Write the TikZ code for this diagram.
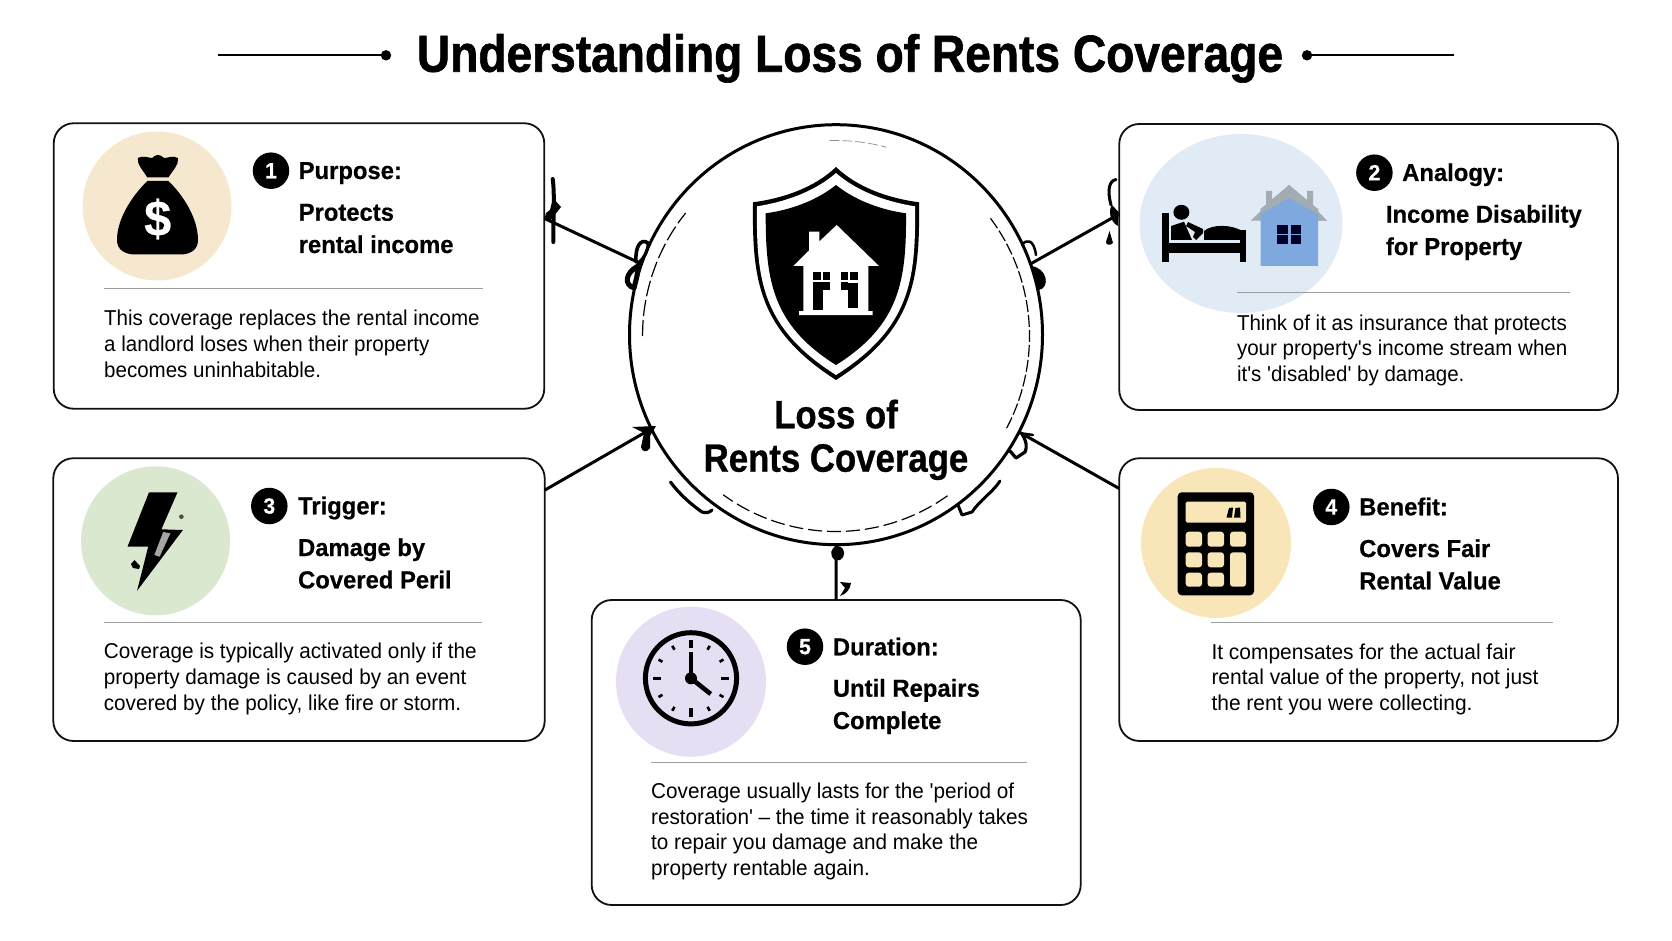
\documentclass[tikz,border=0pt]{standalone}
\usepackage{fontspec}
\usetikzlibrary{shapes.geometric}
\setmainfont{Liberation Sans}
\newfontfamily\titlef{Liberation Sans}[FakeStretch=0.887,FakeBold=1.2]
\newfontfamily\hubf{Liberation Sans}[FakeStretch=0.88,FakeBold=0.8]
\newfontfamily\headf{Liberation Sans}[FakeStretch=0.972,FakeBold=0.5]
\newfontfamily\bodyf{Liberation Sans}[FakeStretch=0.955]
\newfontfamily\bodyg{Liberation Sans}[FakeStretch=0.963]
\newfontfamily\bodyh{Liberation Sans}[FakeStretch=0.975]
\definecolor{inkc}{HTML}{111111}
\definecolor{bagbg}{HTML}{F5E8CF}
\definecolor{bedbg}{HTML}{E1EBF6}
\definecolor{boltbg}{HTML}{DAE8D0}
\definecolor{calcbg}{HTML}{F8E6B8}
\definecolor{clockbg}{HTML}{E6DEF3}
\definecolor{roofc}{HTML}{A3ABB3}
\definecolor{wallc}{HTML}{7FA8DE}
\tikzset{
  cardbox/.style={draw=inkc,line width=1.8pt,fill=white,rounded corners=20pt,inner sep=0pt,outer sep=0pt},
  badge/.style={circle,fill=black,text=white,inner sep=0pt,minimum size=36.5pt,font=\headf\bfseries\fontsize{22}{22}\selectfont},
  lead/.style={anchor=base west,inner sep=0pt,font=\headf\bfseries\fontsize{24.5}{24.5}\selectfont},
  sub/.style={anchor=base west,inner sep=0pt,align=left,font=\headf\bfseries\fontsize{24.5}{32.3}\selectfont},
  detail/.style={anchor=base west,inner sep=0pt,align=left,font=\bodyf\fontsize{21.5}{25.8}\selectfont},
  detailg/.style={detail,font=\bodyg\fontsize{21.5}{25.8}\selectfont},
  detailh/.style={detail,font=\bodyh\fontsize{21.5}{25.8}\selectfont},
  rulel/.style={draw=black!38,line width=0.9pt},
  link/.style={draw=black,line width=3pt},
  ink/.style={draw=black,line cap=round,line join=round},
}
\newcommand{\ringarc}[4][]{\draw[black,#1] plot[domain=#2:#3,samples=#4,smooth] ({836+193.5*cos(\x)},{336+195.5*sin(\x)});}
\begin{document}
\begin{tikzpicture}[x=1pt,y=-1pt]
\useasboundingbox (0,0) rectangle (1672,941);
\fill[white] (0,0) rectangle (1672,941);

% title
\node[inner sep=0pt,anchor=base,font=\titlef\bfseries\fontsize{52}{52}\selectfont] (title) at (850,71.7) {Understanding Loss of Rents Coverage};
\coordinate (tl) at (218,55.3);
\coordinate (tr) at (1454,55.3);
\fill (386,55.3) circle[radius=5.2];
\fill (1307,55.3) circle[radius=5.2];
\draw[line width=2pt] (tl) -- (386,55.3);
\draw[line width=2pt] (1307,55.3) -- (tr);

% hub and boxes
\node[ellipse,draw=black,line width=3pt,fill=white,minimum width=413pt,minimum height=420pt,inner sep=0pt,outer sep=0pt] (hub) at (836,334.7) {};
\node[cardbox,minimum width=490.5pt,minimum height=285.5pt] (box1) at (299,266) {};
\node[cardbox,minimum width=498.7pt,minimum height=286pt] (box2) at (1368.6,267) {};
\node[cardbox,minimum width=491.4pt,minimum height=282.7pt] (box3) at (299,599.6) {};
\node[cardbox,minimum width=498.7pt,minimum height=282.7pt] (box4) at (1368.6,599.6) {};
\node[cardbox,minimum width=489pt,minimum height=305pt] (box5) at (836.2,752.5) {};

% connectors
\draw[link] (box1.11.3) -- (hub.160);
\draw[link] (box2.168.9) -- (hub.20);
\draw[link] (box3.24.4) -- (hub.207);
\draw[link] (box4.156.1) -- (hub.332);
\draw[link] (box5.north) -- (hub.south);

% connector end marks, box 1
\draw[ink,line width=4pt] (552.7,179) .. controls (555,195) and (553,225) .. (553.3,242);
\fill (553,198) -- (561,207) -- (554,216) -- (550,221) -- (545,217) -- (546,213) -- (550,210) -- cycle;
\draw[ink,line width=3.6pt] (636,262) .. controls (635,246) and (641,238) .. (648,243);
\draw[ink,line width=3pt] (648,243) .. controls (648,252) and (644,258) .. (638,263);
\draw[ink,line width=5pt] (638,266) .. controls (625,273) and (624,285) .. (634,288) .. controls (636,280) and (638,274) .. (638,266);
% box 2
\fill (1112,205) .. controls (1108,210) and (1110,222) .. (1118,226) -- (1118.5,212) -- cycle;
\draw[ink,line width=3pt] (1111,205) .. controls (1107,190) and (1109,181) .. (1116,179.5);
\fill (1109.5,231) -- (1113,243) .. controls (1110,246) and (1106,245) .. (1106,242) -- cycle;
\draw[ink,line width=2.5pt] (1022,245) .. controls (1027,238) and (1034,240) .. (1036,255);
\fill (1031,266) .. controls (1048,268) and (1050,288) .. (1039,290) .. controls (1036,280) and (1034,272) .. (1031,266) -- cycle;
% box 3
\fill (632,427) -- (656,426) -- (650,436) -- (650,448) .. controls (647,453) and (642,452) .. (641,447) -- (644,433) -- cycle;
\draw[ink,line width=3.2pt] (670.5,482) .. controls (680,495) and (692,505) .. (702,512) .. controls (706,513) and (709,513) .. (712,510);
% box 4
\draw[ink,line width=2.5pt] (1019,433) -- (1033,435) ;
\draw[ink,line width=3.2pt] (1022,434) .. controls (1027,442) and (1027,448) .. (1025,452) -- (1016,458) -- (1010,451);
\draw[ink,line width=3pt] (1000,481) .. controls (993,492) and (980,500) .. (972,512) -- (962,515) -- (958,505);
% box 5
\fill (837.5,546) .. controls (846,547) and (846,557) .. (840,560) -- (835,560) .. controls (829,556) and (830,547) .. (837.5,546) -- cycle;
\fill (840,582) -- (851,583) .. controls (850,590) and (846,594) .. (840,596) -- (845,588) -- cycle;

% inner dashed ring
\ringarc[line width=1.2pt,dash pattern=on 16pt off 4pt]{180}{219}{12}
\ringarc[line width=1.2pt,dash pattern=on 12pt off 3pt]{-37}{28.7}{18}
\ringarc[line width=1.2pt,dash pattern=on 14pt off 5pt]{54.8}{125.7}{20}
\ringarc[line width=0.7pt,draw=black!45,dash pattern=on 10pt off 3pt]{268}{285}{6}

% shield
\fill[black] (836,167) .. controls (815,187) and (785,198) .. (753,202.3) .. controls (752,280) and (758,330) .. (836,380) .. controls (914,330) and (920,280) .. (919,202.3) .. controls (887,198) and (857,187) .. (836,167) -- cycle;
\fill[white] (836,173) .. controls (815,191.5) and (785,202) .. (757,206.3) .. controls (756,280) and (762,328) .. (836,375) .. controls (910,328) and (916,280) .. (915,206.3) .. controls (887,202) and (857,191.5) .. (836,173) -- cycle;
\fill[black] (836,185) .. controls (816,201) and (790,210) .. (765.7,213.3) .. controls (765.5,280) and (772,325) .. (836,365) .. controls (900,325) and (906.5,280) .. (906,213.3) .. controls (882,210) and (856,201) .. (836,185) -- cycle;
% house on shield
\fill[white] (836.7,225) -- (879,266) -- (868.3,266) -- (868.3,311) -- (872.7,311) -- (872.7,315) -- (799,315) -- (799,311) -- (803.3,311) -- (803.3,266) -- (793.3,266) -- (809,250.5) -- (809,231.7) -- (819.3,231.7) -- (819.3,241.5) -- cycle;
\fill[black] (813.3,271.7) rectangle (820.7,280);
\fill[black] (822.7,271.7) rectangle (830,280);
\fill[black] (822.7,282.3) rectangle (830,290);
\fill[black] (813.3,282.3) rectangle (823.3,310);
\fill[black] (841,271.7) rectangle (847.7,280);
\fill[black] (850.3,271.7) rectangle (857.7,280);
\fill[black] (841,282.3) rectangle (847.7,290);
\fill[black] (848.3,282.7) rectangle (857.7,307.7);
\node[inner sep=0pt,align=center,anchor=base,font=\hubf\bfseries\fontsize{39.5}{43.4}\selectfont] (hubtext) at (836,471.7) {Loss of\\Rents Coverage};

% card 1
\fill[bagbg] (157,206) circle[radius=74.5];
\fill (137.8,158) .. controls (145,155) and (148,158) .. (152,158) .. controls (156,154) and (160,154) .. (164,158) .. controls (169,158) and (172,155) .. (178,158) .. controls (179,165) and (173,170) .. (168.4,177.5) -- (147.3,177.5) .. controls (143,170) and (137,165) .. (137.8,158) -- cycle;
\fill (147.3,181) -- (168.4,181) .. controls (183,195) and (198,218) .. (198,240) .. controls (198,250) and (190,254) .. (181.8,254.5) -- (134,254.5) .. controls (125,254) and (117,250) .. (117,240) .. controls (117,218) and (133,195) .. (147.3,181) -- cycle;
\node[inner sep=0pt,text=white,font=\headf\bfseries\fontsize{50}{50}\selectfont] (dollar) at (157.7,219) {\$};
\node[badge] (n1) at (271,170.7) {1};
\node[lead] (l1) at (298.5,179) {Purpose:};
\node[sub] (s1) at (298.5,253) {Protects\\rental income};
\draw[rulel] (104,288) -- (483,288);
\node[detail] (d1) at (104,377) {This coverage replaces the rental income\\a landlord loses when their property\\becomes uninhabitable.};

% card 2
\fill[bedbg] (1241,223.5) ellipse[x radius=101.5,y radius=89.5];
\fill[black] (1162,213) rectangle (1168.6,262.3);
\fill[black] (1239.7,230) rectangle (1246,262);
\fill[black] (1162,243.3) rectangle (1246,253.3);
\fill[black] (1181.4,212.3) ellipse[x radius=8,y radius=7.5];
\fill[black] (1171,240) -- (1171,226) -- (1184,221.7) -- (1192,240) -- cycle;
\fill[black] (1188,222) -- (1203,229) -- (1203,233) -- (1196,240) -- (1193,237) -- (1195,232) -- (1186,226) -- cycle;
\fill[black] (1204,240) -- (1204,231) .. controls (1212,224) and (1232,224) .. (1244,232) -- (1244,240) -- cycle;
\fill[roofc] (1289,185) -- (1327,220.7) -- (1250.7,220.7) -- (1266,206) -- (1266,191) -- (1272,191) -- (1272,201) -- cycle;
\fill[roofc] (1289,185) -- (1307,201) -- (1307,191) -- (1313,191) -- (1313,206) -- (1327,220.7) -- (1289,220.7) -- cycle;
\fill[wallc] (1260.5,209) -- (1289,193) -- (1318,209) -- (1318,266) -- (1260.5,266) -- cycle;
\fill[roofc] (1260.5,209) -- (1289,185) -- (1318,209) -- (1318,214) -- (1289,198) -- (1260.5,214) -- cycle;
\fill[black!85!blue] (1277,225) rectangle (1288,234);
\fill[black!85!blue] (1290.5,225) rectangle (1301.4,234);
\fill[black!85!blue] (1277,235.5) rectangle (1288,244);
\fill[black!85!blue] (1290.5,235.5) rectangle (1301.4,244);
\node[badge] (n2) at (1374.4,172.7) {2};
\node[lead] (l2) at (1402,181) {Analogy:};
\node[sub] (s2) at (1385.7,255) {Income Disability\\for Property};
\draw[rulel] (1236.8,292.3) -- (1569.5,292.3);
\node[detail] (d2) at (1236.8,381.7) {Think of it as insurance that protects\\your property's income stream when\\it's 'disabled' by damage.};

% card 3
\fill[boltbg] (155.5,540.8) circle[radius=74.5];
\fill (149,492.3) -- (177.5,492.3) -- (161.4,529.3) -- (182.9,530) -- (137.1,590.7) -- (148.2,546.7) -- (127.5,546.7) -- cycle;
\fill[black!35] (163.2,532) -- (170.4,533.3) -- (159.6,556.7) -- (154.3,555) -- cycle;
\fill[black!70] (181.4,516.7) circle[radius=2.3];
\fill (131,564) -- (134.5,560) -- (140,566) -- (139,569) -- (133,568) -- cycle;
\node[badge] (n3) at (269.3,506) {3};
\node[lead] (l3) at (297.9,514.3) {Trigger:};
\node[sub] (s3) at (297.9,588.3) {Damage by\\Covered Peril};
\draw[rulel] (103.6,622) -- (482,622);
\node[detailg] (d3) at (103.6,710) {Coverage is typically activated only if the\\property damage is caused by an event\\covered by the policy, like fire or storm.};

% card 4
\fill[calcbg] (1216,543) circle[radius=75];
\fill[black,rounded corners=4pt] (1177.7,492.3) rectangle (1254,595.3);
\fill[calcbg,rounded corners=1.5pt] (1185.7,501.7) rectangle (1246,522.7);
\foreach \xa/\xb in {1185.7/1202,1207.6/1224,1230/1246}{
  \fill[calcbg,rounded corners=3pt] (\xa,531.7) rectangle (\xb,546.7);
}
\foreach \xa/\xb in {1185.7/1202,1207.6/1224}{
  \fill[calcbg,rounded corners=3pt] (\xa,552.3) rectangle (\xb,567.3);
  \fill[calcbg,rounded corners=3pt] (\xa,572.7) rectangle (\xb,586.7);
}
\fill[calcbg,rounded corners=3pt] (1230,552.3) rectangle (1246,586.7);
\fill (1226.5,517.5) -- (1229,508) -- (1233,507.5) -- (1232,517.5) -- cycle;
\fill (1234,517.5) -- (1235.5,508) -- (1240,507.5) -- (1240.5,517.5) -- cycle;
\node[badge] (n4) at (1331.3,507) {4};
\node[lead] (l4) at (1359,515.3) {Benefit:};
\node[sub] (s4) at (1359,589.3) {Covers Fair\\Rental Value};
\draw[rulel] (1211.3,622.7) -- (1552.7,622.7);
\node[detailh] (d4) at (1211.3,710.7) {It compensates for the actual fair\\rental value of the property, not just\\the rent you were collecting.};

% card 5
\fill[clockbg] (691,681.7) circle[radius=75];
\draw[black,line width=5pt] (691,678.3) circle[radius=45.6];
\foreach \a in {0,90,180,270}{
  \draw[black,line width=3.5pt] ({691+30*cos(\a)},{678.3+30*sin(\a)}) -- ({691+38.3*cos(\a)},{678.3+38.3*sin(\a)});
}
\foreach \a in {30,60,120,150,210,240,300,330}{
  \draw[black,line width=2.6pt] ({691+33*cos(\a)},{678.3+33*sin(\a)}) -- ({691+37.5*cos(\a)},{678.3+37.5*sin(\a)});
}
\draw[black,line width=4.6pt] (691,678.3) -- (691,651.7);
\draw[black,line width=4.6pt] (691,678.3) -- (710.7,694);
\fill (691,678.3) circle[radius=6];
\node[badge] (n5) at (805,646.7) {5};
\node[lead] (l5) at (832.7,655.3) {Duration:};
\node[sub] (s5) at (832.7,729) {Until Repairs\\Complete};
\draw[rulel] (651,762.3) -- (1026.7,762.3);
\node[detailg] (d5) at (651,875.7) {Coverage usually lasts for the 'period of\\restoration' – the time it reasonably takes\\to repair you damage and make the\\property rentable again.};
\end{tikzpicture}
\end{document}
